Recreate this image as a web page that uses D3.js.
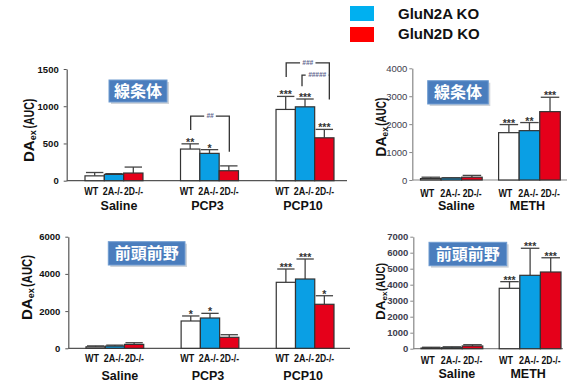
<!DOCTYPE html>
<html><head><meta charset="utf-8">
<script src="https://cdn.jsdelivr.net/npm/d3@7"></script>
<style>body{margin:0;background:#fff} svg{display:block}</style>
</head><body><svg id="c" width="575" height="390"></svg>
<script>
// ---------- data ----------
const genotypes = ["WT", "2A-/-", "2D-/-"];
const legendLabels = ["GluN2A KO", "GluN2D KO"];
const regionLabels = ["線条体", "前頭前野"];

const pcpGroups = ["Saline", "PCP3", "PCP10"];
const methGroups = ["Saline", "METH"];

// striatum, PCP
const stPcpMean  = [[65, 85, 103], [425, 367, 134], [957, 992, 576]];
const stPcpErr   = [[45, 10, 80], [70, 50, 65], [175, 105, 113]];
const stPcpStars = [["", "", ""], ["**", "*", ""], ["***", "***", "***"]];
const stPcpTicks = [0, 500, 1000, 1500];

// striatum, METH
const stMethMean  = [[50, 70, 100], [1695, 1767, 2448]];
const stMethErr   = [[50, 10, 65], [290, 290, 515]];
const stMethStars = [["", "", ""], ["***", "**", "***"]];
const stMethTicks = [0, 1000, 2000, 3000, 4000];

// prefrontal cortex, PCP
const pfcPcpMean  = [[80, 120, 210], [1468, 1629, 591], [3548, 3726, 2366]];
const pfcPcpErr   = [[50, 50, 90], [270, 250, 140], [715, 1075, 460]];
const pfcPcpStars = [["", "", ""], ["*", "*", ""], ["***", "***", "*"]];
const pfcPcpTicks = [0, 2000, 4000, 6000];

// prefrontal cortex, METH
const pfcMethMean  = [[40, 60, 170], [3775, 4587, 4794]];
const pfcMethErr   = [[50, 60, 80], [415, 1690, 890]];
const pfcMethStars = [["", "", ""], ["***", "***", "***"]];
const pfcMethTicks = [0, 1000, 2000, 3000, 4000, 5000, 6000, 7000];

// significance brackets (striatum PCP): [group, fromGenotype, toGenotype, topValue, leftBottomValue, rightBottomValue, label]
const stPcpBrackets = [
  ["PCP3", "WT", "2D-/-", 868, 680, 389, "##"],
  ["PCP10", "WT", "2D-/-", 1582, 1394, 1091, "###"],
  ["PCP10", "2A-/-", "2D-/-", 1417, 1269, 1417, "#####"]
];

// ---------- drawing ----------
const svg = d3.select("#c");
const FONT = "Arial, 'Liberation Sans', sans-serif";
const CJK = "'Noto Sans CJK JP', 'Noto Sans CJK SC', sans-serif";
const fills = {"WT": "#ffffff", "2A-/-": "#0a9fe4", "2D-/-": "#e5001a"};
const labShift = {"WT": -3.5, "2A-/-": -1.2, "2D-/-": 0.3};
const labLen = {"WT": 14, "2A-/-": 20, "2D-/-": 19};

// legend
const legColors = ["#00b0f0", "#ff0000"];
legendLabels.forEach((t, i) => {
  svg.append("rect").attr("x", 350).attr("y", 6 + i * 21).attr("width", 24).attr("height", 15)
    .attr("fill", legColors[i]);
  svg.append("text").attr("x", 398).attr("y", 19 + i * 20).text(t)
    .attr("font-family", FONT).attr("font-weight", "bold").attr("font-size", 15).attr("fill", "#111");
});

function panel(c) {
  const g = svg.append("g");
  const y = d3.scaleLinear().domain([0, c.ticks[c.ticks.length - 1]]).range(c.yRange);
  const x = d3.scaleBand().domain(c.groups).range(c.xRange).paddingInner(c.pad);
  const xs = d3.scaleBand().domain(genotypes).range([0, x.bandwidth()]);
  const bw = xs.bandwidth();
  const cx = (gr, k) => x(gr) + xs(k) + bw / 2;

  // y axis
  const ax = g.append("g").attr("transform", `translate(${c.axisX},0)`)
    .call(d3.axisLeft(y).tickValues(c.ticks).tickSize(3).tickSizeOuter(0).tickPadding(c.tickPad).tickFormat(d3.format("d")));
  ax.select(".domain").attr("stroke", c.axisColor).attr("stroke-width", 1.2);
  ax.selectAll(".tick line").attr("stroke", c.axisColor);
  ax.selectAll(".tick text").attr("font-family", FONT).attr("font-size", 9.5)
    .attr("font-weight", c.tickBold ? "bold" : "normal").attr("fill", c.tickColor);

  // baseline
  g.append("line").attr("x1", c.axisX).attr("x2", c.baseEnd).attr("y1", y(0)).attr("y2", y(0))
    .attr("stroke", c.axisColor).attr("stroke-width", 1.2);

  // bars
  c.groups.forEach((gr, gi) => {
    genotypes.forEach((k, ki) => {
      const m = c.mean[gi][ki], e = c.err[gi][ki];
      const xc = cx(gr, k);
      // error bar
      g.append("line").attr("x1", xc).attr("x2", xc).attr("y1", y(m)).attr("y2", y(m + e))
        .attr("stroke", "#444").attr("stroke-width", 1.3);
      g.append("line").attr("x1", xc - bw * 0.45).attr("x2", xc + bw * 0.45).attr("y1", y(m + e)).attr("y2", y(m + e))
        .attr("stroke", "#444").attr("stroke-width", 1.3);
      g.append("rect").attr("x", x(gr) + xs(k)).attr("y", y(m)).attr("width", bw).attr("height", y(0) - y(m))
        .attr("fill", fills[k]).attr("stroke", "#333").attr("stroke-width", 1.2);
      const s = c.stars[gi][ki];
      if (s) {
        g.append("text").attr("x", xc).attr("y", y(m + e) + 2).attr("text-anchor", "middle").text(s)
          .attr("font-family", FONT).attr("font-weight", "bold").attr("font-size", 10.5).attr("fill", "#333");
      }
      g.append("text").attr("x", xc + labShift[k]).attr("y", c.xLabY).attr("text-anchor", "middle").text(k)
        .attr("font-family", FONT).attr("font-weight", "bold").attr("font-size", 10.5).attr("fill", "#111")
        .attr("textLength", labLen[k]).attr("lengthAdjust", "spacingAndGlyphs");
    });
    g.append("text").attr("x", x(gr) + x.bandwidth() / 2 + (gi === 0 ? 5 : -2)).attr("y", c.grpLabY)
      .attr("text-anchor", "middle").text(gr)
      .attr("font-family", FONT).attr("font-weight", "bold").attr("font-size", 12.5).attr("fill", "#111");
  });

  // brackets
  (c.brackets || []).forEach(b => {
    const [gr, k1, k2, top, lb, rb, lab] = b;
    const inner = k1 !== "WT";
    const xl = cx(gr, k1) + (inner ? -3 : 0.5);
    const xr = cx(gr, k2) + (gr === "PCP10" ? 5 : 0.5);
    const mid = (xl + xr) / 2 + (inner ? 1.5 : 0);
    const half = lab.length * 1.9 + 2;
    const st = (sel) => sel.attr("stroke", "#333").attr("stroke-width", 1.3).attr("fill", "none");
    st(g.append("path").attr("d", `M${xl},${y(lb)}V${y(top)}H${mid - half}`));
    st(g.append("path").attr("d", `M${mid + half},${y(top)}H${xr}V${y(rb)}`));
    g.append("text").attr("x", mid).attr("y", y(top) + 2.2).attr("text-anchor", "middle").text(lab)
      .attr("font-family", FONT).attr("font-size", 6.5).attr("font-weight", "bold").attr("font-style", "italic").attr("fill", "#5b5f8c");
  });

  // region box
  const r = c.box;
  g.append("rect").attr("x", r[0] + 2).attr("y", r[1] + 2).attr("width", r[2] - r[0]).attr("height", r[3] - r[1])
    .attr("fill", "#d0d4da");
  g.append("rect").attr("x", r[0]).attr("y", r[1]).attr("width", r[2] - r[0]).attr("height", r[3] - r[1])
    .attr("fill", "#4a7dbd").attr("stroke", "#6f9bd0").attr("stroke-width", 1);
  g.append("text").attr("x", (r[0] + r[2]) / 2).attr("y", (r[1] + r[3]) / 2 + 6).attr("text-anchor", "middle")
    .text(c.region).attr("font-family", CJK).attr("font-size", 16).attr("font-weight", "bold").attr("fill", "#fff");

  // y label
  const L = c.ylab; // [baselineX, bottomY, sizeDA, aucStart, aucLen]
  const lg = g.append("g").attr("transform", `translate(${L[0]},${L[1]}) rotate(-90)`);
  const f = L[2];
  lg.append("text").attr("x", 0).attr("y", 0).text("DA").attr("font-family", FONT).attr("font-weight", "bold")
    .attr("font-size", f).attr("fill", "#111");
  lg.append("text").attr("x", f * 1.45).attr("y", f * 0.15).text("ex").attr("font-family", FONT).attr("font-weight", "bold")
    .attr("font-size", f * 0.6).attr("fill", "#111");
  lg.append("text").attr("x", L[3]).attr("y", 0).text("(AUC)").attr("font-family", FONT).attr("font-weight", "bold")
    .attr("font-size", f).attr("fill", "#111").attr("textLength", L[4]).attr("lengthAdjust", "spacingAndGlyphs");
}

panel({groups: pcpGroups, mean: stPcpMean, err: stPcpErr, stars: stPcpStars, ticks: stPcpTicks,
  yRange: [180.7, 69], xRange: [85, 334], pad: 0.393, axisX: 66.7, baseEnd: 347, tickPad: 5,
  axisColor: "#555", tickBold: true, tickColor: "#111", xLabY: 194.5, grpLabY: 210,
  brackets: stPcpBrackets, box: [109, 80, 167, 102], region: regionLabels[0], ylab: [33.5, 162, 15, 33.4, 30]});

panel({groups: methGroups, mean: stMethMean, err: stMethErr, stars: stMethStars, ticks: stMethTicks,
  yRange: [180, 68.3], xRange: [420.5, 560.3], pad: 0.21, axisX: 412.3, baseEnd: 567, tickPad: 2,
  axisColor: "#888", tickBold: false, tickColor: "#3d3d4d", xLabY: 196.5, grpLabY: 210,
  box: [427.7, 80.7, 488.3, 104], region: regionLabels[0], ylab: [386, 156.7, 14, 31, 28]});

panel({groups: pcpGroups, mean: pfcPcpMean, err: pfcPcpErr, stars: pfcPcpStars, ticks: pfcPcpTicks,
  yRange: [348.3, 236.7], xRange: [86, 334], pad: 0.393, axisX: 68.3, baseEnd: 350, tickPad: 5,
  axisColor: "#555", tickBold: true, tickColor: "#111", xLabY: 362, grpLabY: 380,
  box: [108.3, 241.7, 185, 265], region: regionLabels[1], ylab: [31.7, 320, 15, 33, 32]});

panel({groups: methGroups, mean: pfcMethMean, err: pfcMethErr, stars: pfcMethStars, ticks: pfcMethTicks,
  yRange: [348.7, 236.7], xRange: [421, 561], pad: 0.21, axisX: 413.3, baseEnd: 563, tickPad: 2,
  axisColor: "#888", tickBold: true, tickColor: "#3d3d4d", xLabY: 363.8, grpLabY: 378.3,
  box: [429, 242.3, 506.7, 265.7], region: regionLabels[1], ylab: [385, 320, 13.5, 29, 28]});
</script></body></html>
